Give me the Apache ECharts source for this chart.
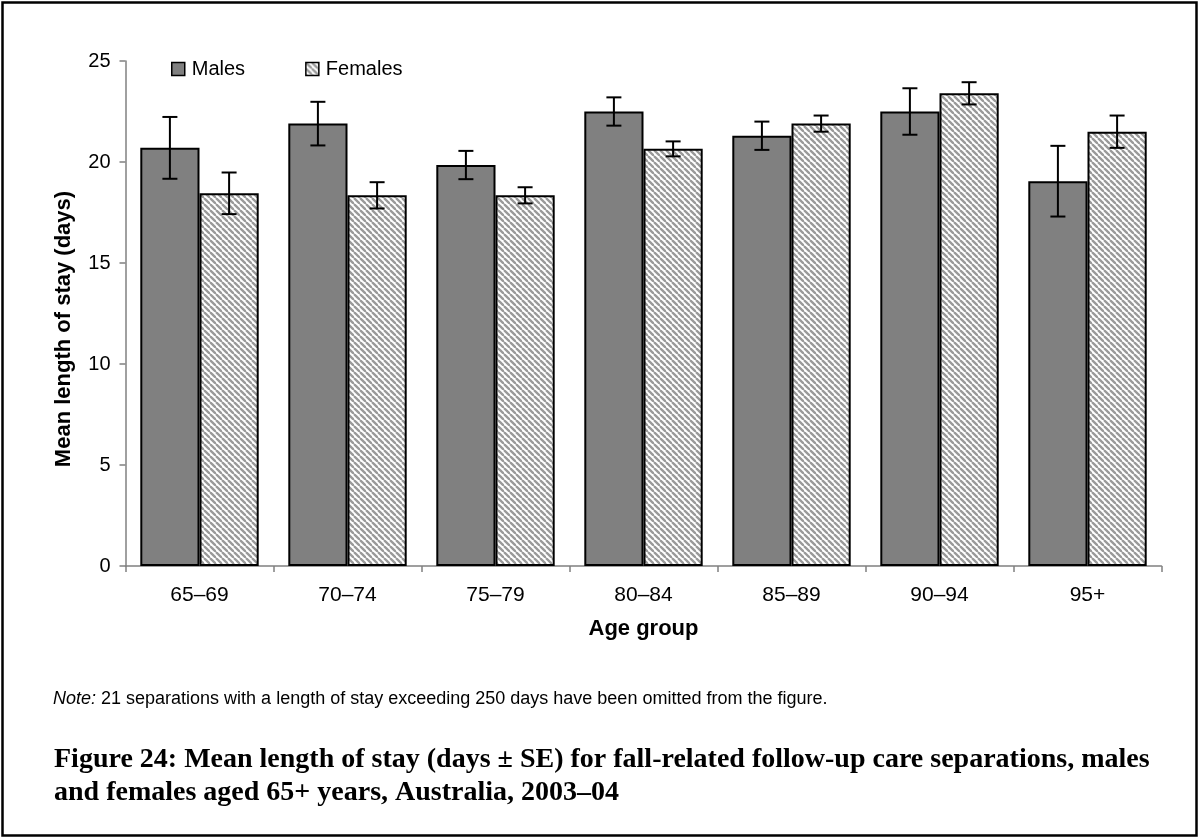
<!DOCTYPE html>
<html><head><meta charset="utf-8">
<script src="https://cdn.jsdelivr.net/npm/echarts@6/dist/echarts.min.js"></script>
<style>html,body{margin:0;padding:0;background:#fff}#c{width:1199px;height:837px}</style>
</head><body><div id="c"></div>
<script>
const categories = ['65–69', '70–74', '75–79', '80–84', '85–89', '90–94', '95+'];
const malesMean = [20.7, 21.9, 19.85, 22.5, 21.3, 22.5, 19.05];
const malesSE = [1.53, 1.08, 0.7, 0.7, 0.7, 1.15, 1.75];
const femalesMean = [18.45, 18.35, 18.35, 20.65, 21.9, 23.4, 21.5];
const femalesSE = [1.03, 0.65, 0.4, 0.37, 0.4, 0.55, 0.8];
const seriesNames = ['Males', 'Females'];
const yMin = 0, yMax = 25, yStep = 5;
const xAxisName = 'Age group';
const yAxisName = 'Mean length of stay (days)';
const noteLabel = 'Note:';
const noteText = ' 21 separations with a length of stay exceeding 250 days have been omitted from the figure.';
const titleLine1 = 'Figure 24: Mean length of stay (days ± SE) for fall-related follow-up care separations, males';
const titleLine2 = 'and females aged 65+ years, Australia, 2003–04';

function hatch() {
  const p = 6, c = document.createElement('canvas');
  c.width = p; c.height = p;
  const g = c.getContext('2d');
  g.fillStyle = '#ffffff'; g.fillRect(0, 0, p, p);
  g.strokeStyle = '#999999'; g.lineWidth = 2.3;
  for (const k of [-p, 0, p]) {
    g.beginPath(); g.moveTo(k, 0); g.lineTo(k + p, p); g.stroke();
  }
  return c;
}

function errSeries(mean, se, side) {
  return {
    type: 'custom', silent: true, z: 10,
    data: mean.map((m, i) => [i, m - se[i], m + se[i]]),
    encode: { x: 0, y: [1, 2] },
    renderItem(params, api) {
      const i = api.value(0);
      const lo = api.coord([i, api.value(1)]);
      const hi = api.coord([i, api.value(2)]);
      const band = api.size([1, 0])[0];
      const x = lo[0] + side * band * 0.2;
      const w = 7.5;
      const st = { stroke: '#000', lineWidth: 2 };
      return {
        type: 'group', children: [
          { type: 'line', shape: { x1: x, y1: lo[1], x2: x, y2: hi[1] }, style: st },
          { type: 'line', shape: { x1: x - w, y1: lo[1], x2: x + w, y2: lo[1] }, style: st },
          { type: 'line', shape: { x1: x - w, y1: hi[1], x2: x + w, y2: hi[1] }, style: st }
        ]
      };
    }
  };
}

const chart = echarts.init(document.getElementById('c'), null, { renderer: 'canvas' });
const sans = 'Liberation Sans, Arial, sans-serif';
const hatchPattern = { image: hatch(), repeat: 'repeat' };

chart.setOption({
  animation: false,
  backgroundColor: '#ffffff',
  textStyle: { fontFamily: sans, color: '#000' },
  grid: { left: 125.5, right: 37.5, top: 61, bottom: 271, containLabel: false },
  legend: {
    data: seriesNames, left: 166, top: 54, itemWidth: 13, itemHeight: 13, itemGap: 60,
    icon: 'rect',
    itemStyle: { borderColor: '#000', borderWidth: 1.5 },
    textStyle: { fontSize: 20, fontFamily: sans, color: '#000', padding: [0, 0, 0, 2] }
  },
  xAxis: {
    type: 'category', data: categories,
    name: xAxisName, nameLocation: 'middle', nameGap: 52,
    nameTextStyle: { fontSize: 22, fontWeight: 'bold', fontFamily: sans, color: '#000' },
    axisLine: { lineStyle: { color: '#808080', width: 1.5 } },
    axisTick: { show: true, length: 6, lineStyle: { color: '#808080', width: 1.5 } },
    axisLabel: { fontSize: 21, color: '#000', margin: 19, fontFamily: sans },
    splitLine: { show: false }
  },
  yAxis: {
    type: 'value', min: yMin, max: yMax, interval: yStep,
    axisLine: { show: true, lineStyle: { color: '#808080', width: 1.5 } },
    axisTick: { show: true, length: 6, lineStyle: { color: '#808080', width: 1.5 } },
    axisLabel: { fontSize: 20, color: '#000', margin: 15, fontFamily: sans },
    splitLine: { show: false }
  },
  series: [
    {
      name: seriesNames[0], type: 'bar', data: malesMean, barGap: '0%', barCategoryGap: '20%',
      itemStyle: { color: '#808080', borderColor: '#000', borderWidth: 2 }
    },
    {
      name: seriesNames[1], type: 'bar', data: femalesMean, barGap: '0%', barCategoryGap: '20%',
      itemStyle: { color: hatchPattern, borderColor: '#000', borderWidth: 2 }
    },
    errSeries(malesMean, malesSE, -1),
    errSeries(femalesMean, femalesSE, 1)
  ],
  graphic: [
    {
      type: 'rect', left: 0, top: 0, z: 100, silent: true,
      shape: { x: 2, y: 2, width: 1194, height: 833 },
      style: { fill: 'none', stroke: '#000', lineWidth: 2.5 }
    },
    {
      type: 'text', x: 64, y: 329, rotation: Math.PI / 2, silent: true,
      style: { text: yAxisName, font: 'bold 22px ' + sans, fill: '#000', align: 'center', verticalAlign: 'middle' }
    },
    {
      type: 'text', x: 53, y: 699, silent: true,
      style: {
        text: '{i|' + noteLabel + '}' + noteText,
        font: '18px ' + sans, fill: '#000', verticalAlign: 'middle',
        rich: { i: { fontStyle: 'italic', fontSize: 18, fontFamily: sans, fill: '#000' } }
      }
    },
    {
      type: 'text', x: 54, y: 760, silent: true,
      style: { text: titleLine1, font: 'bold 28px Liberation Serif, serif', fill: '#000', verticalAlign: 'middle' }
    },
    {
      type: 'text', x: 54, y: 793, silent: true,
      style: { text: titleLine2, font: 'bold 28px Liberation Serif, serif', fill: '#000', verticalAlign: 'middle' }
    }
  ]
});
</script></body></html>
